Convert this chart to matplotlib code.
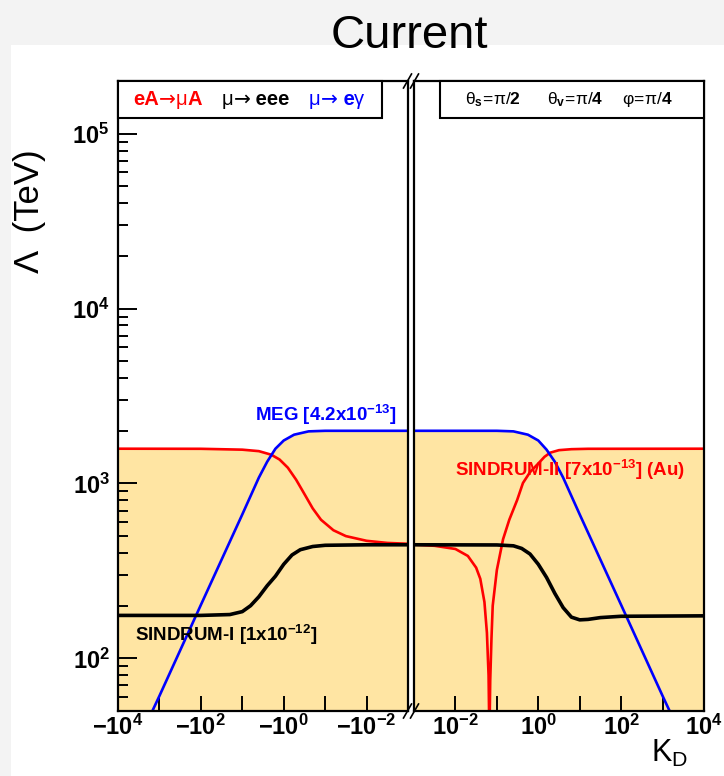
import numpy as np
import matplotlib
matplotlib.use("Agg")
import matplotlib.pyplot as plt
from matplotlib.patches import Rectangle
from matplotlib.lines import Line2D
from matplotlib.ticker import FixedLocator, FixedFormatter, NullLocator

plt.rcParams['font.family'] = ['Liberation Sans', 'DejaVu Sans']
plt.rcParams['mathtext.fontset'] = 'custom'
plt.rcParams['mathtext.rm'] = 'Liberation Sans'
plt.rcParams['mathtext.bf'] = 'Liberation Sans:bold'
plt.rcParams['mathtext.it'] = 'Liberation Sans:italic'
plt.rcParams['mathtext.sf'] = 'Liberation Sans'

# --- data (x given as log10|kappa_D|) ---
# left panel: kappa_D < 0
left_red_u = [4, 2, 1, 0.6, 0.3, 0.1, -0.1, -0.3, -0.5, -0.7, -0.9, -1.2, -1.5, -2, -2.5, -3]
left_red_lam = [1580, 1578, 1560, 1530, 1460, 1370, 1230, 1050, 870, 720, 620, 540, 500, 470, 457, 452]

left_blue_u = [4, 3, 2, 1, 0.6, 0.4, 0.2, 0, -0.25, -0.6, -1, -3]
left_blue_lam = [19, 61, 202, 665, 1080, 1330, 1580, 1760, 1900, 1985, 2000, 2000]

left_black_u = [4, 2, 1.3, 1.0, 0.8, 0.6, 0.4, 0.2, 0, -0.2, -0.4, -0.7, -1, -2, -3]
left_black_lam = [176, 176, 178, 185, 200, 225, 260, 295, 345, 390, 418, 436, 443, 446, 446]

# right panel: kappa_D > 0
right_red_u = [-3, -2.5, -2, -1.7, -1.5, -1.4, -1.3, -1.24, -1.2, -1.18, -1.16, -1.13, -1.1,
               -1.0, -0.85, -0.7, -0.51, -0.37, -0.2, 0, 0.15, 0.29, 0.5, 0.8, 1.2, 4]
right_red_lam = [447, 440, 422, 385, 330, 285, 210, 140, 80, 35, 75, 130, 200,
                 320, 480, 620, 804, 1006, 1160, 1300, 1420, 1500, 1550, 1570, 1578, 1580]

right_blue_u = [-3, -1, -0.6, -0.25, 0, 0.2, 0.4, 0.6, 1, 2, 3, 4]
right_blue_lam = [2000, 2000, 1985, 1900, 1760, 1560, 1330, 1080, 665, 202, 61, 19]

right_black_u = [-3, -1, -0.6, -0.4, -0.2, 0, 0.2, 0.4, 0.6, 0.8, 1.0, 1.2, 1.5, 2, 4]
right_black_lam = [446, 445, 440, 425, 395, 345, 290, 235, 195, 172, 166, 167, 171, 174, 175]

y_min, y_max = 50, 2e5
x_exps = [-3, -2, -1, 0, 1, 2, 3, 4]

fill_color = '#FFE5A3'

W, H = 724, 776
fig = plt.figure(figsize=(W / 100, H / 100), dpi=100, facecolor='#f3f3f3')
renderer = fig.canvas.get_renderer()


def fx(x):
    return x / W


def fy(y):
    return 1 - y / H


# white canvas
fig.add_artist(Rectangle((fx(11), 0), 1, fy(45), transform=fig.transFigure,
                         facecolor='white', edgecolor='none', zorder=-10))

bottom = fy(711)
height = fy(81) - bottom
ax_l = fig.add_axes([fx(118), bottom, fx(408) - fx(118), height])
ax_r = fig.add_axes([fx(414), bottom, fx(704) - fx(414), height])


def draw_panel(ax, curves):
    for u, lam, col, lw in curves:
        k = 10.0 ** np.array(u)
        ax.fill_between(k, 1, lam, color=fill_color, lw=0, zorder=1)
    for u, lam, col, lw in curves:
        k = 10.0 ** np.array(u)
        ax.plot(k, lam, color=col, lw=lw, zorder=3, solid_capstyle='butt')
    ax.set_xscale('log')
    ax.set_yscale('log')
    ax.set_ylim(y_min, y_max)
    for s in ax.spines.values():
        s.set_linewidth(1.6)
        s.set_zorder(5)
    ax.xaxis.set_major_locator(FixedLocator([10.0 ** e for e in x_exps]))
    ax.xaxis.set_minor_locator(NullLocator())
    ax.tick_params(axis='x', which='major', direction='in', length=11, width=1.4,
                   top=False, pad=3, labelsize=17)


draw_panel(ax_l, [(left_red_u, left_red_lam, 'red', 1.9),
                  (left_blue_u, left_blue_lam, 'blue', 1.9),
                  (left_black_u, left_black_lam, 'black', 2.6)])
draw_panel(ax_r, [(right_red_u, right_red_lam, 'red', 1.9),
                  (right_blue_u, right_blue_lam, 'blue', 1.9),
                  (right_black_u, right_black_lam, 'black', 2.6)])

ax_l.set_xlim(1e4, 1e-3)
ax_r.set_xlim(1e-3, 1e4)

ax_l.xaxis.set_major_formatter(FixedFormatter(
    [r'$\mathbf{-10^{%d}}$' % e if e % 2 == 0 else '' for e in x_exps]))
ax_r.xaxis.set_major_formatter(FixedFormatter(
    [r'$\mathbf{10^{%d}}$' % e if e % 2 == 0 else '' for e in x_exps]))

y_exps = [2, 3, 4, 5]
ax_l.yaxis.set_major_locator(FixedLocator([10.0 ** e for e in y_exps]))
ax_l.yaxis.set_major_formatter(FixedFormatter([r'$\mathbf{10^{%d}}$' % e for e in y_exps]))
ax_l.yaxis.set_minor_locator(FixedLocator(
    [m * 10.0 ** e for e in [1, 2, 3, 4, 5] for m in range(2, 10)]))
ax_l.tick_params(axis='y', which='major', direction='in', length=14, width=1.4,
                 right=False, pad=6, labelsize=17)
ax_l.tick_params(axis='y', which='minor', direction='in', length=7, width=1.4, right=False)
ax_r.tick_params(axis='y', which='both', left=False, right=False, labelleft=False)

# break marks
for xb in (407.5, 414.5):
    for yb in (81, 711):
        fig.add_artist(Line2D([fx(xb - 4), fx(xb + 4)], [fy(yb + 7), fy(yb - 7)],
                              transform=fig.transFigure, color='black', lw=1.2, zorder=6))

# boxes at the top of each panel
for x0, x1 in ((118, 382), (440, 704)):
    fig.add_artist(Rectangle((fx(x0), fy(118)), fx(x1) - fx(x0), fy(81) - fy(118),
                             transform=fig.transFigure, facecolor='white',
                             edgecolor='black', lw=1.5, zorder=6))


def chain(x, y, pieces, size):
    # write text pieces one after the other, starting at pixel x
    for s, color, weight, family in pieces:
        t = fig.text(fx(x), fy(y), s, color=color, fontsize=size, fontweight=weight,
                     family=family, va='baseline', zorder=7)
        x += t.get_window_extent(renderer).width


sans = ['Liberation Sans', 'DejaVu Sans']
arrow = ['DejaVu Sans']
leg_fs = 14.5
chain(133, 105, [('eA', 'red', 'bold', sans), ('\u2192', 'red', 'normal', arrow),
                 ('\u03bc', 'red', 'normal', sans), ('A', 'red', 'bold', sans)], leg_fs)
chain(222, 105, [('\u03bc', 'black', 'normal', sans), ('\u2192', 'black', 'normal', arrow),
                 (' eee', 'black', 'bold', sans)], leg_fs)
chain(309, 105, [('\u03bc', 'blue', 'normal', sans), ('\u2192', 'blue', 'normal', arrow),
                 (' e', 'blue', 'bold', sans), ('\u03b3', 'blue', 'normal', sans)], leg_fs)

box_fs = 12.5
fig.text(fx(465), fy(104), r'$\mathrm{\theta}_{\mathbf{s}}\!\mathrm{=}\!\mathrm{\pi/}\mathbf{2}$',
         fontsize=box_fs, va='baseline', zorder=7)
fig.text(fx(547), fy(104), r'$\mathrm{\theta}_{\mathbf{v}}\!\mathrm{=}\!\mathrm{\pi/}\mathbf{4}$',
         fontsize=box_fs, va='baseline', zorder=7)
fig.text(fx(622), fy(104), r'$\mathrm{\varphi}\!\mathrm{=}\!\mathrm{\pi/}\mathbf{4}$',
         fontsize=box_fs, va='baseline', zorder=7)

# curve labels
lab_fs = 13.5
fig.text(fx(255), fy(421), r'MEG [4.2x10$^{\mathbf{-13}}$]', color='blue',
         fontsize=lab_fs, fontweight='bold', va='baseline', zorder=7)
fig.text(fx(455), fy(476), r'SINDRUM-II [7x10$^{\mathbf{-13}}$] (Au)', color='red',
         fontsize=lab_fs, fontweight='bold', va='baseline', zorder=7)
fig.text(fx(135), fy(641), r'SINDRUM-I [1x10$^{\mathbf{-12}}$]', color='black',
         fontsize=lab_fs, fontweight='bold', va='baseline', zorder=7)

# axis titles
fig.text(fx(409), fy(48), 'Current', fontsize=34, ha='center', va='baseline')
fig.text(fx(30), fy(211), '\u039b  (TeV)', fontsize=25, rotation=90,
         ha='center', va='center')
fig.text(fx(670), fy(762), r'K$_{\mathrm{D}}$', fontsize=22, ha='center', va='baseline')

fig.savefig('out.png', dpi=100, facecolor=fig.get_facecolor())
